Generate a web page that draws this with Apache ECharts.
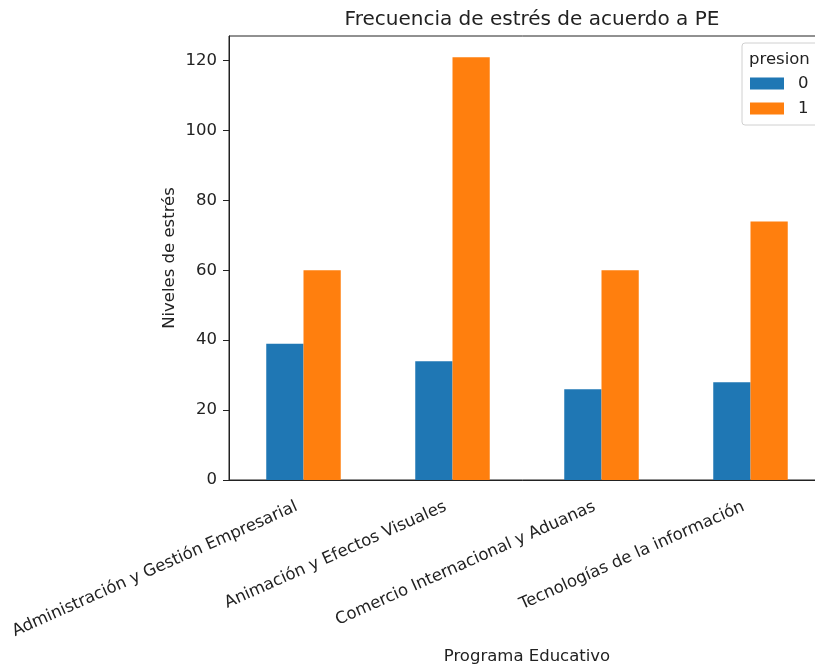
<!DOCTYPE html>
<html>
<head>
<meta charset="utf-8">
<script src="https://cdn.jsdelivr.net/npm/echarts@6/dist/echarts.min.js"></script>
<style>html,body{margin:0;padding:0;background:#fff}#c{width:815px;height:664px}</style>
</head>
<body>
<div id="c"></div>
<script>
const categories = ["Administración y Gestión Empresarial", "Animación y Efectos Visuales", "Comercio Internacional y Aduanas", "Tecnologías de la información"];
const serie0 = [39, 34, 26, 28];
const serie1 = [60, 121, 60, 74];
const seriesNames = ["0", "1"];
const yTicks = [0, 20, 40, 60, 80, 100, 120];

const F = 'DejaVu Sans';
const FS = 16.5;
const chart = echarts.init(document.getElementById('c'));
chart.setOption({
  animation: false,
  title: {
    text: 'Frecuencia de estrés de acuerdo a PE',
    left: 527, top: 5, textAlign: 'center',
    textStyle: {fontFamily: F, fontSize: 20, fontWeight: 'normal', color: '#222'}
  },
  grid: {left: 229, top: 36, width: 596, height: 444, show: true, borderColor: '#222', borderWidth: 1,
    backgroundColor: 'transparent', outerBoundsMode: 'none', containLabel: false},
  legend: {
    orient: 'vertical', left: 742, top: 43,
    padding: [32, 40, 8, 8],
    borderColor: '#d0d0d0', borderWidth: 1, borderRadius: 3,
    backgroundColor: 'rgba(255,255,255,0.8)',
    itemWidth: 34, itemHeight: 12, itemGap: 8,
    icon: 'rect',
    data: seriesNames,
    textStyle: {fontFamily: F, fontSize: FS, lineHeight: 17, color: '#222', padding: [0, 0, 0, 9]}
  },
  graphic: [{
    type: 'text', left: 749, top: 51, z: 100,
    style: {text: 'presion', font: '16.5px "DejaVu Sans"', fill: '#222'}
  }],
  xAxis: {
    type: 'category', data: categories,
    name: 'Programa Educativo', nameLocation: 'middle', nameGap: 168, nameMoveOverlap: false,
    nameTextStyle: {fontFamily: F, fontSize: FS, color: '#222'},
    axisLine: {lineStyle: {color: '#222'}},
    axisTick: {alignWithLabel: true, length: 6, lineStyle: {color: '#222'}},
    axisLabel: {rotate: 24, interval: 0, margin: 23, fontFamily: F, fontSize: FS, color: '#222', padding: [0, 7.5, 0, 0]}
  },
  yAxis: {
    type: 'value', min: 0, max: 127.05, interval: 20,
    name: 'Niveles de estrés', nameLocation: 'middle', nameGap: 51, nameMoveOverlap: false,
    nameTextStyle: {fontFamily: F, fontSize: FS, color: '#222'},
    splitLine: {show: false},
    axisLine: {show: true, lineStyle: {color: '#222'}},
    axisTick: {show: true, length: 6, lineStyle: {color: '#222'}},
    axisLabel: {fontFamily: F, fontSize: FS, color: '#222', margin: 12, showMaxLabel: false,
      formatter: v => yTicks.includes(v) ? String(v) : ''}
  },
  series: [
    {name: seriesNames[0], type: 'bar', data: serie0, barWidth: '25%', barGap: '0%', itemStyle: {color: '#1f77b4'}},
    {name: seriesNames[1], type: 'bar', data: serie1, barWidth: '25%', barGap: '0%', itemStyle: {color: '#ff7f0e'}}
  ]
});
</script>
</body>
</html>
